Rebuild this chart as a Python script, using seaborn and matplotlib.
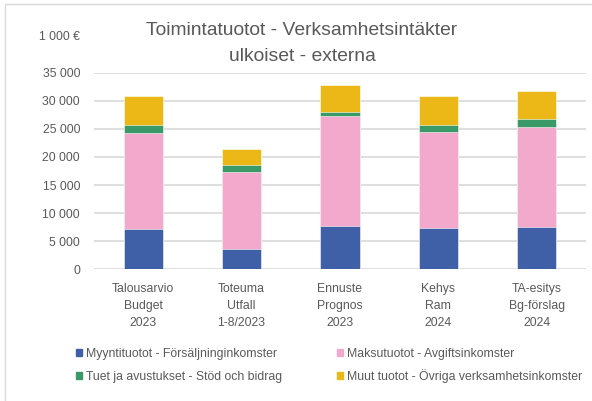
import numpy as np
import pandas as pd
import matplotlib
matplotlib.use("Agg")
import matplotlib.pyplot as plt
import seaborn as sns
from matplotlib.patches import Rectangle, Patch
from matplotlib.ticker import FuncFormatter

# data (1 000 €)
categories = ['Talousarvio\nBudget\n2023', 'Toteuma\nUtfall\n1-8/2023',
              'Ennuste\nPrognos\n2023', 'Kehys\nRam\n2024', 'TA-esitys\nBg-förslag\n2024']
myynti = [7100, 3600, 7650, 7400, 7480]
maksu = [17150, 13700, 19700, 17100, 17900]
tuet = [1450, 1300, 650, 1200, 1370]
muut = [5100, 2800, 4800, 5100, 4990]

series_names = ['Myyntituotot - Försäljninginkomster', 'Maksutuotot - Avgiftsinkomster',
                'Tuet ja avustukset - Stöd och bidrag', 'Muut tuotot - Övriga verksamhetsinkomster']
colors = ['#3F5FA7', '#F3A9CC', '#3A9A67', '#ECB818']

sns.set_style('white')
plt.rcParams['font.family'] = ['Liberation Sans', 'DejaVu Sans']
txt = '#595959'
fs = 8.8

df = pd.DataFrame({'cat': categories, 's0': myynti, 's1': maksu, 's2': tuet, 's3': muut})
cum = df[['s0', 's1', 's2', 's3']].cumsum(axis=1)

fig = plt.figure(figsize=(5.92, 4.01), dpi=100)
ax = fig.add_axes([94/592, 1-269.3/401, (586-94)/592, (269.3-72.7)/401])

# draw cumulative totals from the top layer down
for i in [3, 2, 1, 0]:
    sns.barplot(x=df['cat'], y=cum.iloc[:, i], color=colors[i], width=0.4,
                saturation=1, edgecolor='white', linewidth=0.4, ax=ax, zorder=3)

ax.set_ylim(0, 35000)
ax.set_yticks(np.arange(0, 35001, 5000))
ax.yaxis.set_major_formatter(FuncFormatter(lambda v, p: f'{int(v):,}'.replace(',', ' ')))
ax.grid(axis='y', color='#D9D9D9', lw=1.2, zorder=0)
ax.grid(axis='x', visible=False)
for s in ax.spines.values():
    s.set_visible(False)
ax.set_xlabel('')
ax.set_ylabel('')
ax.tick_params(axis='both', length=0, labelsize=fs, colors=txt)
ax.tick_params(axis='y', pad=10)
ax.tick_params(axis='x', pad=9.8)
for lab in ax.get_xticklabels():
    lab.set_linespacing(1.55)

fig.text(80/592, 1-37/401, '1 000 €', ha='right', va='center', fontsize=fs, color=txt)
fig.text(302/592, 1-43.5/401, 'Toimintatuotot - Verksamhetsintäkter\nulkoiset - externa',
         ha='center', va='center', fontsize=13.9, color=txt, linespacing=1.75)

handles = [Patch(color=c, label=n) for c, n in zip(colors, series_names)]
fs_px = fs * 100 / 72


def legend_row(hs, y):
    kw = dict(handles=hs, ncol=2, loc='center left', bbox_to_anchor=(76/592, 1-y/401),
              frameon=False, fontsize=fs, labelcolor=txt, handlelength=0.5, handleheight=0.5,
              handletextpad=0.35, borderpad=0, borderaxespad=0)
    lg = fig.legend(columnspacing=5, **kw)
    # set the gap so the second column starts where it does in the original
    fig.canvas.draw()
    x2 = lg.get_texts()[1].get_window_extent().x0
    lg.remove()
    return fig.legend(columnspacing=5 + (347 - x2) / fs_px, **kw)


legend_row([handles[0], handles[1]], 354)
legend_row([handles[2], handles[3]], 376)

fig.add_artist(Rectangle((5/592, -0.1), 1.0, 1.1-4/401, transform=fig.transFigure,
                         fill=False, edgecolor='#D9D9D9', lw=1))

fig.savefig('out.png', dpi=100)
